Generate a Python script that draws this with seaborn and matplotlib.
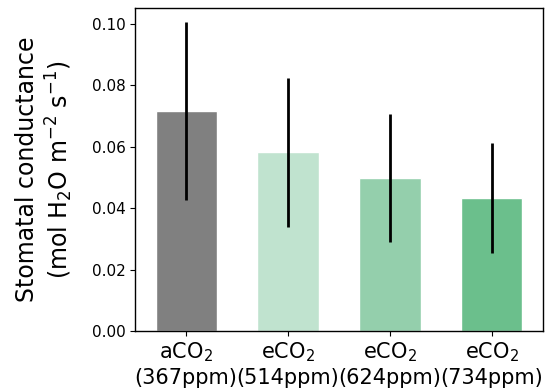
import matplotlib
matplotlib.use("Agg")
import matplotlib.pyplot as plt
import seaborn as sns
import pandas as pd

categories = ["aCO$_2$\n(367ppm)", "eCO$_2$\n(514ppm)", "eCO$_2$\n(624ppm)", "eCO$_2$\n(734ppm)"]
means = [0.0715, 0.0581, 0.0498, 0.0433]
errors = [0.0290, 0.0243, 0.0209, 0.0180]
colors = ["#808080", "#c0e3cf", "#94cfac", "#6bbf8c"]

sns.set_style("ticks")
plt.rcParams['font.family'] = ['DejaVu Sans']

df = pd.DataFrame({"cat": categories, "val": means})
fig = plt.figure(figsize=(5.45, 3.9), dpi=100)
ax = fig.add_axes([0.248, 0.151, 0.748, 0.828])
sns.barplot(data=df, x="cat", y="val", hue="cat", palette=colors, width=0.6,
            legend=False, ax=ax, saturation=1)
ax.errorbar(x=list(range(len(categories))), y=means, yerr=errors, fmt="none",
            ecolor="black", elinewidth=2, capsize=0)
ax.set_ylim(0, 0.105)
ax.set_xlim(-0.5, 3.5)
ax.set_yticks([0, 0.02, 0.04, 0.06, 0.08, 0.10])
ax.set_yticklabels(["0.00", "0.02", "0.04", "0.06", "0.08", "0.10"])
ax.tick_params(axis="y", labelsize=11, colors="black")
ax.tick_params(axis="x", labelsize=15, colors="black")
ax.set_xlabel("")
ax.set_ylabel("Stomatal conductance\n(mol H$_2$O m$^{-2}$ s$^{-1}$)", fontsize=17,
              color="black", labelpad=12)
for s in ax.spines.values():
    s.set_visible(True)
    s.set_linewidth(1)
    s.set_color("black")
fig.savefig("out.png", dpi=100)
